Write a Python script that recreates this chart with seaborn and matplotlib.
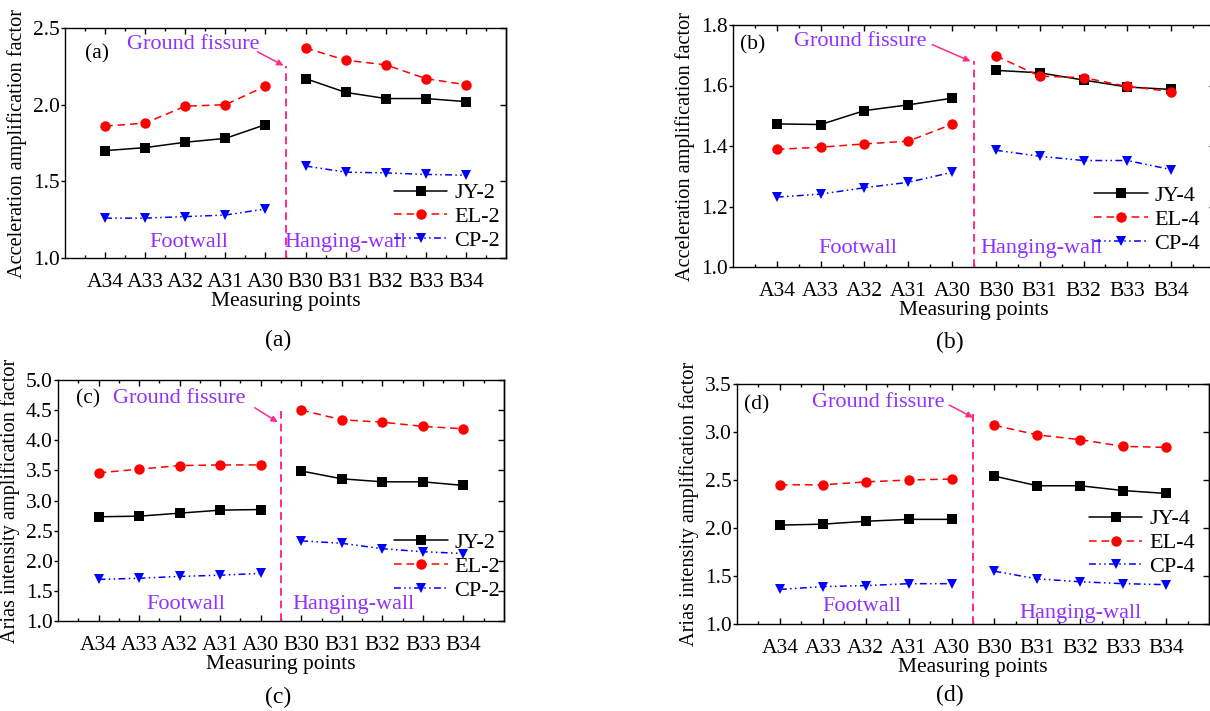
import matplotlib
matplotlib.use("Agg")
import matplotlib.pyplot as plt
from matplotlib.lines import Line2D
from matplotlib.ticker import FixedLocator, FormatStrFormatter
import pandas as pd
import seaborn as sns

# ── Data ──────────────────────────────────────────────────────────────────────
POINTS = ["A34", "A33", "A32", "A31", "A30", "B30", "B31", "B32", "B33", "B34"]
SIDES = ["Footwall"] * 5 + ["Hanging-wall"] * 5

# (a) acceleration amplification, 0.2 g input
ACC_JY2 = [1.70, 1.72, 1.755, 1.78, 1.87, 2.17, 2.08, 2.04, 2.04, 2.02]
ACC_EL2 = [1.86, 1.88, 1.99, 2.00, 2.12, 2.37, 2.29, 2.26, 2.17, 2.13]
ACC_CP2 = [1.26, 1.26, 1.27, 1.28, 1.32, 1.60, 1.56, 1.555, 1.545, 1.54]

# (b) acceleration amplification, 0.4 g input
ACC_JY4 = [1.473, 1.471, 1.517, 1.536, 1.558, 1.650, 1.642, 1.618, 1.595, 1.587]
ACC_EL4 = [1.389, 1.396, 1.407, 1.416, 1.472, 1.698, 1.631, 1.626, 1.597, 1.580]
ACC_CP4 = [1.231, 1.241, 1.262, 1.280, 1.313, 1.386, 1.366, 1.352, 1.352, 1.322]

# (c) Arias intensity amplification, 0.2 g input
AI_JY2 = [2.73, 2.74, 2.79, 2.84, 2.85, 3.49, 3.36, 3.31, 3.31, 3.25]
AI_EL2 = [3.46, 3.52, 3.58, 3.59, 3.59, 4.50, 4.34, 4.30, 4.23, 4.19]
AI_CP2 = [1.69, 1.71, 1.74, 1.76, 1.79, 2.33, 2.29, 2.20, 2.15, 2.12]

# (d) Arias intensity amplification, 0.4 g input
AI_JY4 = [2.03, 2.04, 2.07, 2.09, 2.09, 2.54, 2.44, 2.44, 2.39, 2.36]
AI_EL4 = [2.45, 2.45, 2.48, 2.50, 2.51, 3.07, 2.97, 2.92, 2.85, 2.84]
AI_CP4 = [1.36, 1.39, 1.40, 1.42, 1.42, 1.55, 1.47, 1.44, 1.42, 1.41]

# ── Styling ───────────────────────────────────────────────────────────────────
W, H = 1210, 711
PURPLE = "#9130ff"
PINK = "#ff2a8a"
COLORS = ["black", "#ff0000", "#0000ff"]
MARKERS = ["s", "o", "v"]
DASHES = ["", (5, 3.2), (4.5, 2.2, 1, 2.2, 1, 2.2)]
FS = 15.5
FS_NOTE = 16
FS_YLAB = 14.6

sns.set_theme(style="ticks")
plt.rcParams["font.family"] = ["Liberation Serif", "DejaVu Serif"]
plt.rcParams.update({
    "axes.edgecolor": "black", "axes.linewidth": 1.0,
    "text.color": "black", "axes.labelcolor": "black",
    "xtick.color": "black", "ytick.color": "black",
    "font.size": FS,
})


def box(l, t, r, b):
    return [l / W, 1 - b / H, (r - l) / W, (b - t) / H]


def draw_panel(ax, series, labels, ylim, ystep, ylabel, tag, cfg):
    df = pd.concat([
        pd.DataFrame({"pos": range(len(POINTS)), "value": vals,
                      "series": lab, "side": SIDES})
        for vals, lab in zip(series, labels)
    ])
    sns.lineplot(data=df, x="pos", y="value", hue="series", style="series",
                 units="side", estimator=None, sort=False,
                 palette=dict(zip(labels, COLORS)),
                 markers=dict(zip(labels, MARKERS)),
                 dashes=dict(zip(labels, DASHES)),
                 linewidth=1.1, markersize=7.5, markeredgewidth=0,
                 legend=False, ax=ax)

    ax.set_xlim(-1, 10)
    ax.set_ylim(*ylim)
    ax.xaxis.set_major_locator(FixedLocator(range(len(POINTS))))
    ax.xaxis.set_minor_locator(FixedLocator([i + 0.5 for i in range(-1, 10)]))
    ax.set_xticklabels(POINTS, fontsize=FS)
    n = int(round((ylim[1] - ylim[0]) / ystep))
    ax.set_yticks([ylim[0] + i * ystep for i in range(n + 1)])
    ax.yaxis.set_major_formatter(FormatStrFormatter("%.1f"))
    ax.tick_params(axis="x", which="both", direction="in", top=True, pad=11,
                   labelsize=FS)
    ax.tick_params(axis="x", which="major", length=4, width=1)
    ax.tick_params(axis="x", which="minor", length=2.5, width=1)
    ax.tick_params(axis="y", which="major", direction="out", length=3, width=1,
                   pad=1, labelsize=FS)
    right = ax.secondary_yaxis("right")
    right.set_yticks(ax.get_yticks())
    right.tick_params(direction="in", length=4, width=1, labelright=False)
    ax.set_xlabel("Measuring points", fontsize=FS, labelpad=0)
    ax.set_ylabel(ylabel, fontsize=FS_YLAB, labelpad=4)

    # ground fissure marker
    ax.plot([4.5, 4.5], [ylim[0], cfg["vtop"]], color=PINK, lw=1.4,
            dashes=(4, 2.5))
    ax.annotate("", xy=cfg["arrow_end"], xytext=cfg["arrow_start"],
                arrowprops=dict(arrowstyle="-|>", color=PINK, lw=1.1,
                                mutation_scale=9, shrinkA=0, shrinkB=0))
    ax.text(*cfg["fissure"], "Ground fissure", color=PURPLE, fontsize=FS_NOTE,
            ha="center", va="center")
    ax.text(*cfg["foot"], "Footwall", color=PURPLE, fontsize=FS_NOTE,
            ha="center", va="center")
    ax.text(*cfg["hang"], "Hanging-wall", color=PURPLE, fontsize=FS_NOTE,
            ha="center", va="center")
    ax.text(*cfg["tag"], f"({tag})", fontsize=FS, ha="center", va="center")

    handles = [Line2D([], [], color=c, marker=m, markersize=7.5,
                      markeredgewidth=0, lw=1.1,
                      **({"dashes": d} if d else {"linestyle": "-"}))
               for c, m, d in zip(COLORS, MARKERS, DASHES)]
    ax.legend(handles, labels, loc="lower right", bbox_to_anchor=cfg["leg"],
              frameon=False, fontsize=FS_NOTE, borderpad=0, borderaxespad=0,
              handlelength=2.4, handletextpad=0.3, labelspacing=0.15)


fig = plt.figure(figsize=(W / 100, H / 100), dpi=100)

panels = [
    (box(65, 28, 506, 258), [ACC_JY2, ACC_EL2, ACC_CP2], ["JY-2", "EL-2", "CP-2"],
     (1.0, 2.5), 0.5, "Acceleration amplification factor", "a",
     dict(vtop=2.25, arrow_start=(3.8, 2.345), arrow_end=(4.45, 2.255),
          fissure=(2.2, 2.39), foot=(2.1, 1.10), hang=(6.0, 1.10),
          tag=(-0.2, 2.33), leg=(0.986, 0.03)),
     (278, 340)),
    (box(733, 25, 1215, 267), [ACC_JY4, ACC_EL4, ACC_CP4], ["JY-4", "EL-4", "CP-4"],
     (1.0, 1.8), 0.2, "Acceleration amplification factor", "b",
     dict(vtop=1.68, arrow_start=(3.55, 1.735), arrow_end=(4.42, 1.68),
          fissure=(1.9, 1.745), foot=(1.85, 1.06), hang=(6.05, 1.06),
          tag=(-0.55, 1.735), leg=(0.969, 0.055)),
     (950, 342)),
    (box(58, 380, 504, 621), [AI_JY2, AI_EL2, AI_CP2], ["JY-2", "EL-2", "CP-2"],
     (1.0, 5.0), 0.5, "Arias intensity amplification factor", "c",
     dict(vtop=4.55, arrow_start=(3.85, 4.54), arrow_end=(4.42, 4.30),
          fissure=(2.0, 4.70), foot=(2.15, 1.28), hang=(6.3, 1.28),
          tag=(-0.25, 4.68), leg=(0.991, 0.085)),
     (278, 697)),
    (box(737, 384, 1209, 624), [AI_JY4, AI_EL4, AI_CP4], ["JY-4", "EL-4", "CP-4"],
     (1.0, 3.5), 0.5, "Arias intensity amplification factor", "d",
     dict(vtop=3.2, arrow_start=(3.95, 3.28), arrow_end=(4.5, 3.15),
          fissure=(2.3, 3.31), foot=(1.9, 1.18), hang=(7.0, 1.11),
          tag=(-0.55, 3.28), leg=(0.97, 0.195)),
     (950, 695)),
]

for rect, series, labels, ylim, ystep, ylabel, tag, cfg, cap in panels:
    ax = fig.add_axes(rect)
    draw_panel(ax, series, labels, ylim, ystep, ylabel, tag, cfg)
    fig.text(cap[0] / W, 1 - cap[1] / H, f"({tag})", fontsize=FS + 1.5,
             ha="center", va="center")

fig.savefig("out.png", dpi=100)
